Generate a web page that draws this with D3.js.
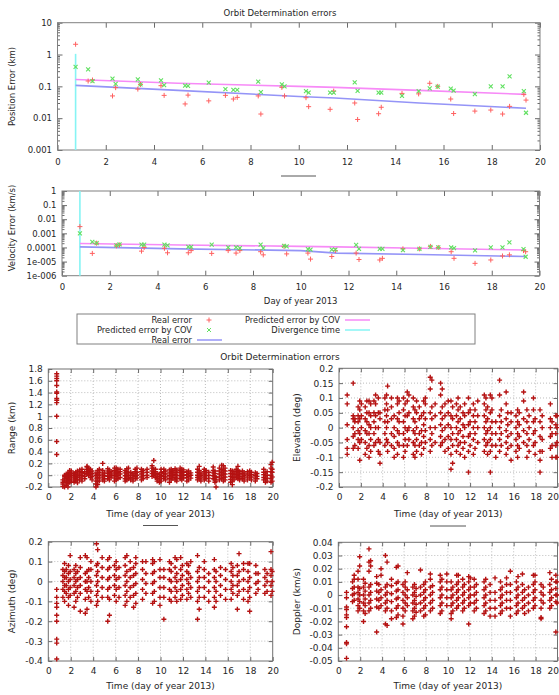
<!DOCTYPE html>
<html><head><meta charset="utf-8">
<script src="https://cdn.jsdelivr.net/npm/d3@7"></script>
<style>body{margin:0;background:#fff} svg{display:block;font-family:"DejaVu Sans",Verdana,sans-serif}</style>
</head><body><svg id="c" width="559" height="695"></svg>
<script>
// ---------- data ----------
const mainTitle = "Orbit Determination errors";
const passDays = [0.75,1.27,1.45,2.28,2.41,3.33,3.44,4.29,4.42,5.29,5.41,6.27,6.96,7.29,7.45,8.32,8.43,9.3,9.41,10.3,10.41,11.3,11.45,12.32,12.44,13.31,13.42,14.28,14.97,15.43,15.76,16.3,16.42,17.3,17.96,18.45,18.74,19.33,19.42];
const posReal = [2.1,0.147,0.158,0.05,0.091,0.082,0.115,0.105,0.052,0.028,0.053,0.035,0.052,0.04,0.045,0.05,0.0135,0.093,0.05,0.044,0.023,0.019,0.071,0.030,0.0091,0.0138,0.022,0.06,0.058,0.125,0.1,0.04,0.014,0.0167,0.018,0.0135,0.0235,0.056,0.037];
const posPred = [0.41,0.34,0.145,0.174,0.12,0.165,0.115,0.155,0.11,0.105,0.103,0.13,0.082,0.078,0.078,0.14,0.066,0.115,0.1,0.071,0.063,0.063,0.063,0.134,0.072,0.064,0.063,0.05,0.071,0.087,0.098,0.085,0.073,0.057,0.1,0.1,0.205,0.071,0.0148];
const velReal = [0.003,0.000038,0.0002,0.00013,0.00015,0.000055,0.0001,0.000087,0.000042,0.000042,0.00006,0.000038,0.00006,0.00004,0.00006,0.00005,0.00003,0.00012,0.000035,0.00004,0.000015,0.000023,0.00006,0.00004,0.000014,0.000013,0.000017,0.00008,0.00008,0.00012,0.0001,0.00005,0.000017,0.0000075,0.000013,0.000025,0.00003,0.00006,0.00005];
const velPred = [0.001,0.00025,0.0002,0.00014,0.000165,0.00016,0.00016,0.00016,0.00014,0.00011,0.00011,0.00016,0.0001,0.0001,0.00009,0.00016,0.00009,0.00013,0.00012,0.000077,0.00007,0.00007,0.00007,0.00015,0.00008,0.00008,0.00008,0.000065,0.00008,0.00011,0.0001,0.0001,0.00009,0.000062,0.0001,0.0001,0.00023,0.000077,0.000022];
const fitDays = [0.75,5,10,11.5,15,19.42];
const posFitPred = [0.165,0.125,0.1,0.093,0.075,0.056];
const posFitReal = [0.107,0.075,0.048,0.043,0.03,0.0204];
const velFitPred = [0.00019,0.00015,0.00012,0.00011,0.000088,0.000066];
const velFitReal = [0.00011,0.00008,0.00006,0.00004,0.000032,0.000023];
const divergenceDay = 0.75;
const posDivSpan = [1.05,0.001];
const velDivSpan = [1,0.000001];
const dayTicks = [0,2,4,6,8,10,12,14,16,18,20];
const posTicks = [10,1,0.1,0.01,0.001];
const posTickLabels = ["10","1","0.1","0.01","0.001"];
const velTicks = [1,0.1,0.01,0.001,0.0001,0.00001,0.000001];
const velTickLabels = ["1","0.1","0.01","0.001","0.0001","1e-005","1e-006"];
const legendNames = ["Real error","Predicted error by COV","Real error","Predicted error by COV","Divergence time"];

const rangeTicks = [-0.2,0,0.2,0.4,0.6,0.8,1,1.2,1.4,1.6,1.8];
const rangeTickLabels = ["-0.2","0","0.2","0.4","0.6","0.8","1","1.2","1.4","1.6","1.8"];
const elevTicks = [-0.2,-0.15,-0.1,-0.05,0,0.05,0.1,0.15,0.2];
const elevTickLabels = ["-0.2","-0.15","-0.1","-0.05","0","0.05","0.1","0.15","0.2"];
const azTicks = [-0.4,-0.3,-0.2,-0.1,0,0.1,0.2];
const azTickLabels = ["-0.4","-0.3","-0.2","-0.1","0","0.1","0.2"];
const dopTicks = [-0.05,-0.04,-0.03,-0.02,-0.01,0,0.01,0.02,0.03,0.04];
const dopTickLabels = ["-0.05","-0.04","-0.03","-0.02","-0.01","0","0.01","0.02","0.03","0.04"];

const rangeCols = [
[0.75,[1.72,1.68,1.64,1.6,1.52,1.41,1.39,1.3,1.27,1.23,1.0,0.57,0.35]],
[1.3,[-0.19,-0.15,-0.12,-0.08]],[1.45,[-0.2,-0.1,-0.05,-0.02,0.0]],[1.6,[-0.17,-0.12,-0.06,-0.03,0.02]],
[1.75,[-0.2,-0.14,-0.09,-0.04,0.0,0.03]],[1.9,[-0.12,-0.07,-0.02,0.02,0.05,0.08]],[2.05,[-0.1,-0.05,0.0,0.04,0.07]],
[2.3,[-0.12,-0.08,-0.03,0.0,0.03]],[2.45,[-0.1,-0.06,-0.02,0.01,0.05]],[2.6,[-0.13,-0.08,-0.04,0.0,0.04,0.07]],
[2.8,[-0.08,-0.03,0.02,0.06,0.09]],[3.0,[-0.1,-0.05,0.0,0.05,0.1]],[3.25,[-0.06,-0.02,0.03,0.06]],
[3.45,[0.02,0.06,0.1,0.14,0.15]],[3.6,[0.0,0.05,0.08,0.12]],[3.75,[-0.04,0.02,0.06,0.1]],[3.9,[-0.08,-0.02,0.03,0.07]],
[4.25,[-0.2,-0.15,-0.1,-0.05,0.0,0.04]],[4.4,[-0.16,-0.1,-0.04,0.02,0.08]],[4.55,[-0.1,-0.05,0.0,0.05,0.1]],
[4.85,[-0.08,-0.03,0.02,0.08,0.2]],[5.0,[-0.1,-0.06,-0.01,0.04]],[5.3,[-0.06,-0.02,0.03,0.07,0.11]],
[5.45,[-0.08,-0.04,0.0,0.05,0.09]],[5.6,[-0.03,0.02,0.06]],[5.9,[-0.1,-0.05,0.0,0.04,0.08,0.12]],
[6.05,[-0.08,-0.02,0.03,0.07,0.12]],[6.2,[-0.06,0.0,0.05,0.1]],[6.4,[-0.04,0.02,0.06,0.1]],
[6.85,[-0.1,-0.06,-0.01,0.04,0.08]],[7.0,[-0.08,-0.03,0.02,0.06,0.11]],[7.15,[-0.06,-0.01,0.04,0.12]],
[7.35,[-0.08,-0.04,0.0,0.05]],[7.55,[-0.1,-0.05,0.0,0.03]],[7.75,[-0.06,-0.02,0.03,0.06,0.1]],
[7.9,[-0.05,0.0,0.05,0.12]],[8.3,[-0.08,-0.03,0.02,0.06,0.1]],[8.45,[-0.06,-0.01,0.04,0.08]],
[8.8,[-0.04,0.0,0.05,0.1]],[9.25,[-0.02,0.03,0.07,0.12,0.16]],[9.4,[0.0,0.05,0.1,0.25]],
[9.55,[-0.04,0.02,0.06,0.1]],[9.7,[-0.1,-0.06,-0.02,0.03]],[9.9,[-0.12,-0.08,-0.03,0.01]],
[10.05,[-0.1,-0.05,0.0,0.05,0.1]],[10.3,[-0.06,-0.02,0.03,0.06,0.1]],[10.45,[-0.08,-0.03,0.02,0.07]],
[10.8,[-0.12,-0.06,-0.01,0.04,0.09]],[10.95,[-0.08,-0.03,0.02,0.06,0.1]],[11.1,[-0.05,0.0,0.04,0.08]],
[11.3,[-0.08,-0.04,0.01,0.05,0.11]],[11.45,[-0.1,-0.05,0.0,0.05,0.09]],[11.75,[-0.06,-0.01,0.04,0.08,0.12]],
[11.9,[-0.08,-0.03,0.02,0.06,0.1]],[12.05,[-0.05,0.0,0.05,0.09]],[12.35,[-0.1,-0.04,0.01,0.06]],
[12.5,[-0.08,-0.02,0.03,0.07]],[12.7,[-0.05,0.0,0.04]],[13.3,[-0.08,-0.04,0.0,0.05,0.1]],
[13.45,[-0.06,-0.02,0.03,0.08,0.15]],[13.6,[-0.1,-0.05,0.0,0.04]],[13.9,[-0.08,-0.03,0.02,0.06,0.1]],
[14.05,[-0.06,-0.01,0.04,0.08]],[14.3,[-0.1,-0.05,0.0,0.05]],[14.7,[-0.06,-0.01,0.04,0.08,0.14]],
[14.85,[-0.12,-0.07,-0.02,0.03,0.07]],[14.95,[-0.2,-0.1,-0.04]],[15.25,[-0.08,-0.03,0.02,0.07,0.12]],
[15.45,[-0.06,0.0,0.05,0.1,0.17]],[15.6,[-0.1,-0.04,0.02,0.08,0.16]],[15.75,[-0.08,-0.03,0.02,0.07,0.12]],
[16.25,[-0.12,-0.07,-0.02,0.03,0.08]],[16.4,[-0.16,-0.1,-0.04,0.02,0.07]],[16.55,[-0.08,-0.03,0.02,0.06]],
[16.75,[-0.04,0.01,0.06,0.1]],[16.9,[-0.06,-0.01,0.04,0.08,0.15]],[17.05,[-0.08,-0.03,0.02,0.06]],
[17.3,[-0.06,-0.02,0.03,0.07]],[17.45,[-0.1,-0.05,0.0,0.04]],[17.75,[-0.08,-0.03,0.02,0.06]],
[17.95,[-0.05,0.0,0.04,0.07]],[18.1,[-0.08,-0.03,0.01,0.05]],[18.45,[-0.1,-0.05,0.0,0.04]],
[18.6,[-0.06,-0.02,0.03]],[19.2,[-0.08,-0.04,0.01,0.05,0.1]],[19.35,[-0.12,-0.06,-0.01,0.04]],
[19.5,[-0.1,-0.05,0.0,0.06]],[19.85,[-0.12,-0.06,0.0,0.06,0.12,0.18]],[19.95,[-0.1,-0.03,0.05,0.1,0.22]]
];
const elevCols = [
[0.75,[-0.09,-0.07,-0.04,0.01,0.08,0.11]],[1.3,[-0.07,-0.03,0.0,0.03,0.04,0.15]],[1.45,[-0.06,-0.02,0.02,0.03]],
[1.75,[-0.07,-0.04,-0.01,0.02,0.04,0.07]],[1.9,[-0.11,-0.05,-0.02,0.03,0.06,0.09]],[2.05,[-0.04,0.0,0.04,0.08]],
[2.4,[-0.09,-0.05,-0.01,0.03,0.07]],[2.55,[-0.07,-0.02,0.02,0.05,0.09]],[2.75,[-0.1,-0.06,-0.02,0.01,0.05,0.09]],
[2.9,[-0.08,-0.04,0.0,0.04,0.08]],[3.2,[-0.06,-0.02,0.02,0.05,0.09]],[3.35,[-0.05,0.0,0.04,0.08,0.11]],
[3.6,[-0.08,-0.04,0.0,0.05,0.1]],[3.75,[-0.12,-0.09,-0.05,0.03,0.05]],[4.2,[-0.06,-0.02,0.02,0.06,0.1]],
[4.35,[-0.04,0.0,0.04,0.08,0.11]],[4.45,[-0.08,-0.05,0.02,0.06,0.14]],[4.8,[-0.06,-0.02,0.03,0.07,0.1]],
[5.05,[-0.1,-0.07,-0.03,0.0,0.04]],[5.35,[-0.09,-0.05,-0.01,0.03,0.08,0.1]],[5.5,[-0.06,-0.02,0.02,0.05,0.09]],
[5.9,[-0.1,-0.06,-0.02,0.02,0.06,0.1]],[6.05,[-0.08,-0.04,0.0,0.04,0.08]],[6.25,[-0.06,-0.01,0.04,0.09,0.12]],
[6.4,[-0.04,0.0,0.05,0.11]],[6.8,[-0.09,-0.05,-0.01,0.03,0.07,0.1]],[6.95,[-0.1,-0.06,-0.02,0.02,0.06]],
[7.1,[-0.08,-0.04,0.0,0.05,0.09]],[7.35,[-0.06,-0.02,0.03,0.07]],[7.55,[-0.09,-0.05,-0.01,0.04]],
[7.75,[-0.07,-0.03,0.01,0.05,0.09]],[7.9,[-0.05,-0.01,0.03,0.08,0.1]],[8.35,[-0.08,-0.04,0.0,0.05,0.13,0.17]],
[8.5,[-0.06,-0.02,0.03,0.07,0.16]],[8.8,[-0.05,0.0,0.04,0.08]],[9.3,[-0.06,-0.03,0.01,0.05,0.11,0.15]],
[9.45,[-0.05,-0.01,0.03,0.07,0.13]],[9.7,[-0.08,-0.04,0.0,0.04,0.08]],[10.0,[-0.07,-0.03,0.01,0.05,0.09]],
[10.25,[-0.14,-0.09,-0.04,0.0,0.04,0.09]],[10.4,[-0.12,-0.06,-0.02,0.03,0.07]],[10.75,[-0.08,-0.04,0.0,0.04,0.08]],
[10.9,[-0.06,-0.02,0.02,0.06,0.1]],[11.1,[-0.09,-0.05,-0.01,0.03,0.07]],[11.35,[-0.07,-0.03,0.01,0.05]],
[11.5,[-0.1,-0.05,0.0,0.04,0.08]],[11.85,[-0.15,-0.08,-0.03,0.01,0.05,0.1]],[12.0,[-0.06,-0.02,0.02,0.06]],
[12.3,[-0.09,-0.04,0.0,0.04,0.08]],[12.45,[-0.07,-0.02,0.02,0.06]],[12.7,[-0.05,0.0,0.04,0.09]],
[13.3,[-0.08,-0.04,0.0,0.04,0.08,0.11]],[13.45,[-0.06,-0.02,0.02,0.06,0.1]],[13.6,[-0.09,-0.05,-0.01,0.03,0.07]],
[13.85,[-0.15,-0.08,-0.04,0.0,0.05,0.11]],[14.0,[-0.06,-0.02,0.02,0.06,0.1]],[14.35,[-0.1,-0.06,-0.02,0.02]],
[14.7,[-0.08,-0.04,0.0,0.04,0.11,0.16]],[14.85,[-0.06,-0.02,0.02,0.06]],[15.3,[-0.09,-0.05,-0.01,0.03,0.08,0.12]],
[15.45,[-0.07,-0.03,0.01,0.05]],[15.75,[-0.11,-0.06,-0.02,0.02,0.05]],[16.2,[-0.08,-0.04,0.0,0.04]],
[16.35,[-0.1,-0.06,-0.02,0.02,0.06]],[16.5,[-0.07,-0.03,0.01,0.05]],[16.9,[-0.05,-0.01,0.03,0.09,0.12]],
[17.2,[-0.1,-0.06,-0.02,0.02,0.06]],[17.4,[-0.08,-0.04,0.0,0.04]],[17.8,[-0.06,-0.02,0.02,0.06,0.1]],
[17.95,[-0.09,-0.05,-0.01,0.03]],[18.4,[-0.15,-0.11,-0.08,-0.03,0.02,0.06]],[18.6,[-0.08,-0.04,0.0,0.04]],
[19.35,[-0.07,-0.03,0.0,0.03,0.08]],[19.5,[-0.1,-0.06,-0.02,0.02]],[19.85,[-0.1,-0.06,-0.02,0.01,0.04]],
[19.95,[-0.1,-0.05,0.0,0.04]]
];
const azCols = [
[0.75,[-0.39,-0.31,-0.29,-0.2,-0.17,-0.13,-0.11,-0.08,-0.04]],[1.3,[-0.08,-0.04,0.0,0.03,0.06]],
[1.45,[-0.1,-0.05,-0.02,0.02,0.05,0.09]],[1.6,[-0.06,-0.02,0.02,0.06]],[1.8,[-0.12,-0.08,-0.04,0.0,0.04,0.08]],
[1.95,[-0.07,-0.03,0.01,0.05,0.13]],[2.3,[-0.13,-0.06,-0.02,0.02,0.06]],[2.45,[-0.1,-0.05,0.0,0.04,0.08]],
[2.6,[-0.08,-0.03,0.01,0.05]],[2.85,[-0.15,-0.06,-0.02,0.02,0.07,0.12]],[3.3,[-0.16,-0.09,-0.04,0.0,0.04,0.13]],
[3.45,[-0.14,-0.05,0.0,0.05,0.12]],[3.6,[-0.08,-0.03,0.02,0.06]],[3.8,[-0.1,-0.05,0.0,0.06,0.1]],
[4.3,[-0.12,-0.07,-0.02,0.03,0.08,0.19]],[4.4,[-0.1,-0.05,0.0,0.05,0.09,0.16]],[4.8,[-0.08,-0.03,0.02,0.07,0.12]],
[5.3,[-0.2,-0.08,-0.04,0.01,0.06,0.11]],[5.45,[-0.17,-0.09,-0.03,0.02,0.07,0.12]],[5.9,[-0.07,-0.02,0.03,0.08]],
[6.05,[-0.1,-0.04,0.01,0.06,0.1]],[6.3,[-0.08,-0.03,0.02,0.07]],[6.85,[-0.12,-0.07,-0.02,0.03,0.08,0.12]],
[7.0,[-0.1,-0.05,0.0,0.05,0.13]],[7.3,[-0.08,-0.03,0.02,0.06,0.1]],[7.6,[-0.13,-0.07,-0.02,0.03,0.07]],
[7.8,[-0.11,-0.06,-0.01,0.04,0.09,0.12]],[8.4,[-0.09,-0.04,0.01,0.06,0.1]],[8.7,[-0.06,-0.01,0.04,0.1]],
[9.3,[-0.11,-0.06,-0.01,0.04,0.09,0.11]],[9.45,[-0.1,-0.05,0.0,0.05,0.1]],[9.95,[-0.12,-0.08,-0.03,0.02,0.06,0.11]],
[10.3,[-0.19,-0.08,-0.03,0.02,0.06]],[10.8,[-0.09,-0.04,0.01,0.06,0.1]],[10.95,[-0.1,-0.05,0.0,0.05,0.09]],
[11.3,[-0.08,-0.03,0.02,0.07,0.12]],[11.45,[-0.1,-0.05,0.0,0.04,0.11]],[11.8,[-0.09,-0.04,0.01,0.06,0.12]],
[11.95,[-0.07,-0.02,0.03,0.08]],[12.35,[-0.09,-0.04,0.01,0.05,0.09]],[12.5,[-0.06,-0.01,0.04,0.08]],
[12.7,[-0.08,-0.03,0.02,0.1]],[13.3,[-0.19,-0.1,-0.05,0.0,0.05,0.13]],[13.45,[-0.14,-0.08,-0.03,0.02,0.07]],
[13.9,[-0.08,-0.03,0.02,0.06,0.1]],[14.3,[-0.1,-0.05,0.0,0.04]],[14.8,[-0.13,-0.08,-0.03,0.02,0.06,0.11]],
[14.95,[-0.1,-0.05,0.0,0.05]],[15.35,[-0.07,-0.02,0.03,0.07]],[15.8,[-0.09,-0.04,0.01,0.06]],
[16.3,[-0.09,-0.04,0.0,0.05,0.09]],[16.45,[-0.06,-0.02,0.03,0.07]],[16.85,[-0.14,-0.07,-0.02,0.03,0.08]],
[17.0,[-0.05,0.0,0.05,0.14]],[17.4,[-0.09,-0.04,0.01,0.06,0.09]],[17.8,[-0.1,-0.05,0.0,0.05,0.09]],
[17.95,[-0.15,-0.08,-0.03,0.02,0.09]],[18.5,[-0.06,-0.01,0.04,0.08]],[18.7,[-0.04,0.0,0.04]],
[19.3,[-0.06,-0.02,0.02,0.06]],[19.5,[-0.05,0.0,0.04]],[19.85,[-0.07,-0.02,0.03,0.06,0.15]],[19.95,[-0.05,0.0,0.05]]
];
const dopCols = [
[0.75,[-0.048,-0.037,-0.036,-0.024,-0.017,-0.015,-0.011,-0.009,-0.002,0.002]],[1.3,[-0.005,0.0,0.005,0.01]],
[1.45,[-0.004,0.001,0.006,0.012,0.015]],[1.8,[-0.012,-0.008,-0.003,0.002,0.006,0.012,0.018]],
[1.95,[-0.01,-0.005,0.0,0.005,0.022,0.029]],[2.3,[-0.02,-0.012,-0.006,0.0,0.006,0.012]],
[2.45,[-0.014,-0.008,-0.003,0.003,0.009]],[2.8,[-0.012,-0.006,0.0,0.006,0.018,0.025,0.035]],
[2.95,[-0.01,-0.004,0.002,0.008,0.022,0.026]],[3.5,[-0.028,-0.009,-0.003,0.003,0.009,0.014]],
[3.7,[-0.01,-0.004,0.002,0.008]],[3.9,[-0.008,-0.002,0.004,0.015,0.02]],[4.3,[-0.022,-0.012,-0.006,0.0,0.006,0.03]],
[4.45,[-0.023,-0.01,-0.004,0.002,0.008,0.025]],[4.85,[-0.018,-0.012,-0.005,0.001,0.007,0.012]],
[5.3,[-0.017,-0.01,-0.003,0.003,0.009,0.021]],[5.45,[-0.015,-0.008,-0.002,0.004,0.01,0.022]],
[5.9,[-0.022,-0.016,-0.01,-0.004,0.002,0.008]],[6.1,[-0.012,-0.006,0.0,0.006,0.01]],[6.3,[-0.008,-0.002,0.004,0.017]],
[6.8,[-0.018,-0.012,-0.006,0.0,0.006]],[6.95,[-0.016,-0.01,-0.004,0.002,0.008]],[7.1,[-0.013,-0.007,-0.001,0.005]],
[7.5,[-0.012,-0.006,0.0,0.006,0.019]],[7.8,[-0.016,-0.01,-0.004,0.002,0.008]],[7.95,[-0.015,-0.008,-0.002,0.004,0.01]],
[8.4,[-0.012,-0.006,0.0,0.006,0.012,0.016]],[8.6,[-0.01,-0.004,0.002,0.007]],[9.3,[-0.014,-0.008,-0.002,0.004,0.01,0.015]],
[9.45,[-0.012,-0.006,0.0,0.006,0.012]],[9.9,[-0.008,-0.002,0.004,0.01,0.016]],[10.3,[-0.018,-0.014,-0.008,-0.002,0.004,0.01]],
[10.45,[-0.012,-0.006,0.0,0.006]],[10.8,[-0.01,-0.004,0.002,0.008,0.015]],[10.95,[-0.008,-0.002,0.004,0.01,0.015]],
[11.35,[-0.012,-0.006,0.0,0.006,0.012]],[11.5,[-0.01,-0.004,0.002,0.008]],[11.9,[-0.022,-0.008,-0.002,0.004,0.01,0.014]],
[12.05,[-0.006,0.0,0.006,0.013]],[12.4,[-0.012,-0.006,0.0,0.006,0.012]],[12.6,[-0.01,-0.004,0.002,0.008]],
[13.3,[-0.014,-0.008,-0.002,0.004,0.01]],[13.45,[-0.012,-0.006,0.0,0.006,0.012]],[13.85,[-0.016,-0.01,-0.004,0.002,0.008]],
[14.3,[-0.016,-0.01,-0.004,0.002,0.013]],[14.8,[-0.014,-0.008,-0.002,0.004,0.01]],[14.95,[-0.012,-0.006,0.0,0.006]],
[15.35,[-0.01,-0.004,0.002,0.008,0.013]],[15.7,[-0.016,-0.01,-0.004,0.002,0.008,0.018]],
[16.25,[-0.014,-0.008,-0.002,0.004,0.01]],[16.4,[-0.012,-0.006,0.0,0.006,0.014]],[16.8,[-0.01,-0.004,0.002,0.008,0.016]],
[17.0,[-0.014,-0.008,-0.002,0.004]],[17.35,[-0.012,-0.006,0.0,0.006]],[17.8,[-0.01,-0.004,0.002,0.008,0.015]],
[17.95,[-0.008,-0.002,0.004,0.01,0.015]],[18.5,[-0.018,-0.017,-0.01,-0.004,0.002,0.008]],[18.7,[-0.006,0.0,0.006]],
[19.3,[-0.01,-0.004,0.002,0.008,0.017]],[19.45,[-0.008,-0.002,0.004,0.012]],
[19.85,[-0.028,-0.005,0.0,0.005,0.01,0.015]],[19.95,[-0.006,0.0,0.01]]
];

// ---------- drawing ----------
const svg = d3.select("#c");
const TXT = "#262626";
const PLUS = "M-2.5,0H2.5M0,-2.5V2.5";
const CROSS = "M-2,-2L2,2M-2,2L2,-2";

function styleAxis(sel, fs){
  sel.select(".domain").remove();
  sel.attr("font-family", null).attr("font-size", fs).attr("color", "#6a6a6a");
  sel.selectAll("text").attr("fill", TXT);
}

function logMinors(lo, hi){
  const out = [];
  for (let e = Math.round(Math.log10(lo)); e < Math.round(Math.log10(hi)); e++)
    for (let k = 2; k <= 9; k++) out.push(k * Math.pow(10, e));
  return out;
}

function topPanel(o){
  const g = svg.append("g");
  const x = d3.scaleLinear().domain([0,20]).range([o.l,o.r]);
  const y = d3.scaleLog().domain(o.dom).range([o.b,o.t]);
  const fs = 8.5;
  g.append("g").attr("transform",`translate(0,${o.b})`)
    .call(d3.axisBottom(x).tickValues(dayTicks).tickFormat(d3.format("d")).tickSize(-5).tickPadding(8.5)).call(s=>styleAxis(s,fs));
  g.append("g").attr("transform",`translate(0,${o.t})`)
    .call(d3.axisTop(x).tickValues(dayTicks).tickFormat("").tickSize(-5)).call(s=>styleAxis(s,fs));
  g.append("g").attr("transform",`translate(${o.l},0)`)
    .call(d3.axisLeft(y).tickValues(o.ticks).tickFormat((d,i)=>o.labels[i]).tickSize(-5).tickPadding(5.5)).call(s=>styleAxis(s,fs));
  g.append("g").attr("transform",`translate(${o.r},0)`)
    .call(d3.axisRight(y).tickValues(o.ticks).tickFormat("").tickSize(-5)).call(s=>styleAxis(s,fs));
  const mn = logMinors(o.dom[0], o.dom[1]);
  g.append("g").attr("transform",`translate(${o.l},0)`)
    .call(d3.axisLeft(y).tickValues(mn).tickFormat("").tickSize(-2.5)).call(s=>styleAxis(s,fs));
  g.append("g").attr("transform",`translate(${o.r},0)`)
    .call(d3.axisRight(y).tickValues(mn).tickFormat("").tickSize(-2.5)).call(s=>styleAxis(s,fs));
  g.append("rect").attr("x",o.l).attr("y",o.t).attr("width",o.r-o.l).attr("height",o.b-o.t)
    .attr("fill","none").attr("stroke","#808080").attr("stroke-width",1);
  g.append("text").attr("transform",`translate(${o.ylx},${o.yly}) rotate(-90)`).attr("text-anchor","middle")
    .attr("dy","0.35em").attr("font-size",fs).attr("fill",TXT).text(o.ylabel);
  g.append("line").attr("x1",x(divergenceDay)).attr("x2",x(divergenceDay))
    .attr("y1",y(o.div[0])).attr("y2",y(o.div[1])).attr("stroke","#86f4f4").attr("stroke-width",1.6);
  const line = d3.line().x(d=>x(d[0])).y(d=>y(d[1]));
  g.append("path").attr("d",line(fitDays.map((d,i)=>[d,o.fitPred[i]]))).attr("fill","none")
    .attr("stroke","#f78af7").attr("stroke-width",1.6);
  g.append("path").attr("d",line(fitDays.map((d,i)=>[d,o.fitReal[i]]))).attr("fill","none")
    .attr("stroke","#9494f7").attr("stroke-width",1.6);
  g.append("g").selectAll("path").data(passDays).join("path")
    .attr("transform",(d,i)=>`translate(${x(d)},${y(o.real[i])})`).attr("d",PLUS)
    .attr("stroke","#ff6060").attr("stroke-width",1).attr("fill","none");
  g.append("g").selectAll("path").data(passDays).join("path")
    .attr("transform",(d,i)=>`translate(${x(d)},${y(o.pred[i])})`).attr("d",CROSS)
    .attr("stroke","#60e060").attr("stroke-width",1.1).attr("fill","none");
}

function botPanel(o){
  const g = svg.append("g");
  const fs = 9;
  const x = d3.scaleLinear().domain([0,20]).range([o.l,o.r]);
  const y = d3.scaleLinear().domain([o.ticks[0], o.ticks[o.ticks.length-1]]).range([o.b,o.t]);
  g.append("g").selectAll("line").data(dayTicks.slice(1,-1)).join("line")
    .attr("x1",d=>x(d)).attr("x2",d=>x(d)).attr("y1",o.t).attr("y2",o.b)
    .attr("stroke","#bdbdbd").attr("stroke-dasharray","1,2");
  g.append("g").selectAll("line").data(o.ticks.slice(1,-1)).join("line")
    .attr("y1",d=>y(d)).attr("y2",d=>y(d)).attr("x1",o.l).attr("x2",o.r)
    .attr("stroke","#bdbdbd").attr("stroke-dasharray","1,2");
  const bx = g.append("g").attr("transform",`translate(0,${o.b})`)
    .call(d3.axisBottom(x).tickValues(dayTicks).tickFormat(d3.format("d")).tickSize(-4).tickPadding(7)).call(s=>styleAxis(s,fs));
  if (o.fitLast) {
    // keep the last tick label inside the page
    bx.selectAll(".tick").filter(d=>d===20).select("text").attr("text-anchor","end").attr("x",558.5-x(20));
  }
  g.append("g").attr("transform",`translate(0,${o.t})`)
    .call(d3.axisTop(x).tickValues(dayTicks).tickFormat("").tickSize(-4)).call(s=>styleAxis(s,fs));
  g.append("g").attr("transform",`translate(${o.l},0)`)
    .call(d3.axisLeft(y).tickValues(o.ticks).tickFormat((d,i)=>o.labels[i]).tickSize(-4).tickPadding(5.5)).call(s=>styleAxis(s,fs));
  g.append("g").attr("transform",`translate(${o.r},0)`)
    .call(d3.axisRight(y).tickValues(o.ticks).tickFormat("").tickSize(-4)).call(s=>styleAxis(s,fs));
  g.append("rect").attr("x",o.l).attr("y",o.t).attr("width",o.r-o.l).attr("height",o.b-o.t)
    .attr("fill","none").attr("stroke","#707070");
  g.append("text").attr("transform",`translate(${o.ylx},${(o.t+o.b)/2}) rotate(-90)`).attr("text-anchor","middle")
    .attr("dy","0.35em").attr("font-size",fs).attr("fill",TXT).text(o.ylabel);
  g.append("text").attr("x",(o.l+o.r)/2).attr("y",o.xly).attr("text-anchor","middle").attr("dy","0.35em")
    .attr("font-size",fs).attr("fill",TXT).text("Time (day of year 2013)");
  const pts = [];
  o.cols.forEach(c=>c[1].forEach(v=>pts.push([c[0],v])));
  g.append("g").selectAll("path").data(pts).join("path")
    .attr("transform",d=>`translate(${x(d[0])},${y(d[1])})`).attr("d",PLUS)
    .attr("stroke","#b51212").attr("stroke-width",1.4).attr("fill","none");
}

svg.append("text").attr("x",280).attr("y",13).attr("text-anchor","middle").attr("dy","0.35em")
  .attr("font-size",8.5).attr("fill",TXT).text(mainTitle);

topPanel({l:57.5,r:540,t:22.7,b:150,dom:[0.001,10],ticks:posTicks,labels:posTickLabels,
  ylabel:"Position Error (km)",ylx:12,yly:86.5,real:posReal,pred:posPred,fitPred:posFitPred,fitReal:posFitReal,div:posDivSpan});
svg.append("line").attr("x1",281).attr("x2",316).attr("y1",176).attr("y2",176).attr("stroke","#555");
topPanel({l:62,r:539.5,t:191,b:275.7,dom:[0.000001,1],ticks:velTicks,labels:velTickLabels,
  ylabel:"Velocity Error (km/s)",ylx:12,yly:228,real:velReal,pred:velPred,fitPred:velFitPred,fitReal:velFitReal,div:velDivSpan});
svg.append("text").attr("x",300.7).attr("y",301).attr("text-anchor","middle").attr("dy","0.35em")
  .attr("font-size",8.5).attr("fill",TXT).text("Day of year 2013");

const lg = svg.append("g");
lg.append("rect").attr("x",77).attr("y",314).attr("width",398).attr("height",30).attr("fill","none").attr("stroke","#808080");
const legRows = [
  {tx:192,ty:320,name:legendNames[0],kind:"plus"},
  {tx:192,ty:330,name:legendNames[1],kind:"cross"},
  {tx:192,ty:340,name:legendNames[2],kind:"line",color:"#9494f7"},
  {tx:340,ty:320,name:legendNames[3],kind:"line",color:"#f78af7"},
  {tx:340,ty:330,name:legendNames[4],kind:"line",color:"#86f4f4"}
];
legRows.forEach(r=>{
  lg.append("text").attr("x",r.tx).attr("y",r.ty).attr("text-anchor","end").attr("dy","0.35em")
    .attr("font-size",8.3).attr("fill",TXT).text(r.name);
  if (r.kind==="plus") lg.append("path").attr("transform",`translate(${r.tx+17},${r.ty})`).attr("d",PLUS).attr("stroke","#ff6060").attr("fill","none");
  else if (r.kind==="cross") lg.append("path").attr("transform",`translate(${r.tx+17},${r.ty})`).attr("d",CROSS).attr("stroke","#60e060").attr("fill","none");
  else lg.append("line").attr("x1",r.tx+5).attr("x2",r.tx+30).attr("y1",r.ty).attr("y2",r.ty).attr("stroke",r.color).attr("stroke-width",1.5);
});

svg.append("text").attr("x",280).attr("y",357).attr("text-anchor","middle").attr("dy","0.35em")
  .attr("font-size",9).attr("fill",TXT).text(mainTitle);

botPanel({l:48.3,r:272.7,t:369,b:487,ticks:rangeTicks,labels:rangeTickLabels,ylabel:"Range (km)",ylx:12,xly:514,cols:rangeCols});
botPanel({l:339,r:557.5,t:368.3,b:487,ticks:elevTicks,labels:elevTickLabels,ylabel:"Elevation (deg)",ylx:297,xly:514,cols:elevCols,fitLast:true});
botPanel({l:48.3,r:272.7,t:541.7,b:661,ticks:azTicks,labels:azTickLabels,ylabel:"Azimuth (deg)",ylx:12,xly:685.5,cols:azCols});
botPanel({l:338.3,r:557.5,t:542.3,b:661,ticks:dopTicks,labels:dopTickLabels,ylabel:"Doppler (km/s)",ylx:297,xly:685.5,cols:dopCols,fitLast:true});
svg.append("line").attr("x1",143).attr("x2",178).attr("y1",525.5).attr("y2",525.5).attr("stroke","#555");
svg.append("line").attr("x1",430).attr("x2",466).attr("y1",526).attr("y2",526).attr("stroke","#555");
</script></body></html>
